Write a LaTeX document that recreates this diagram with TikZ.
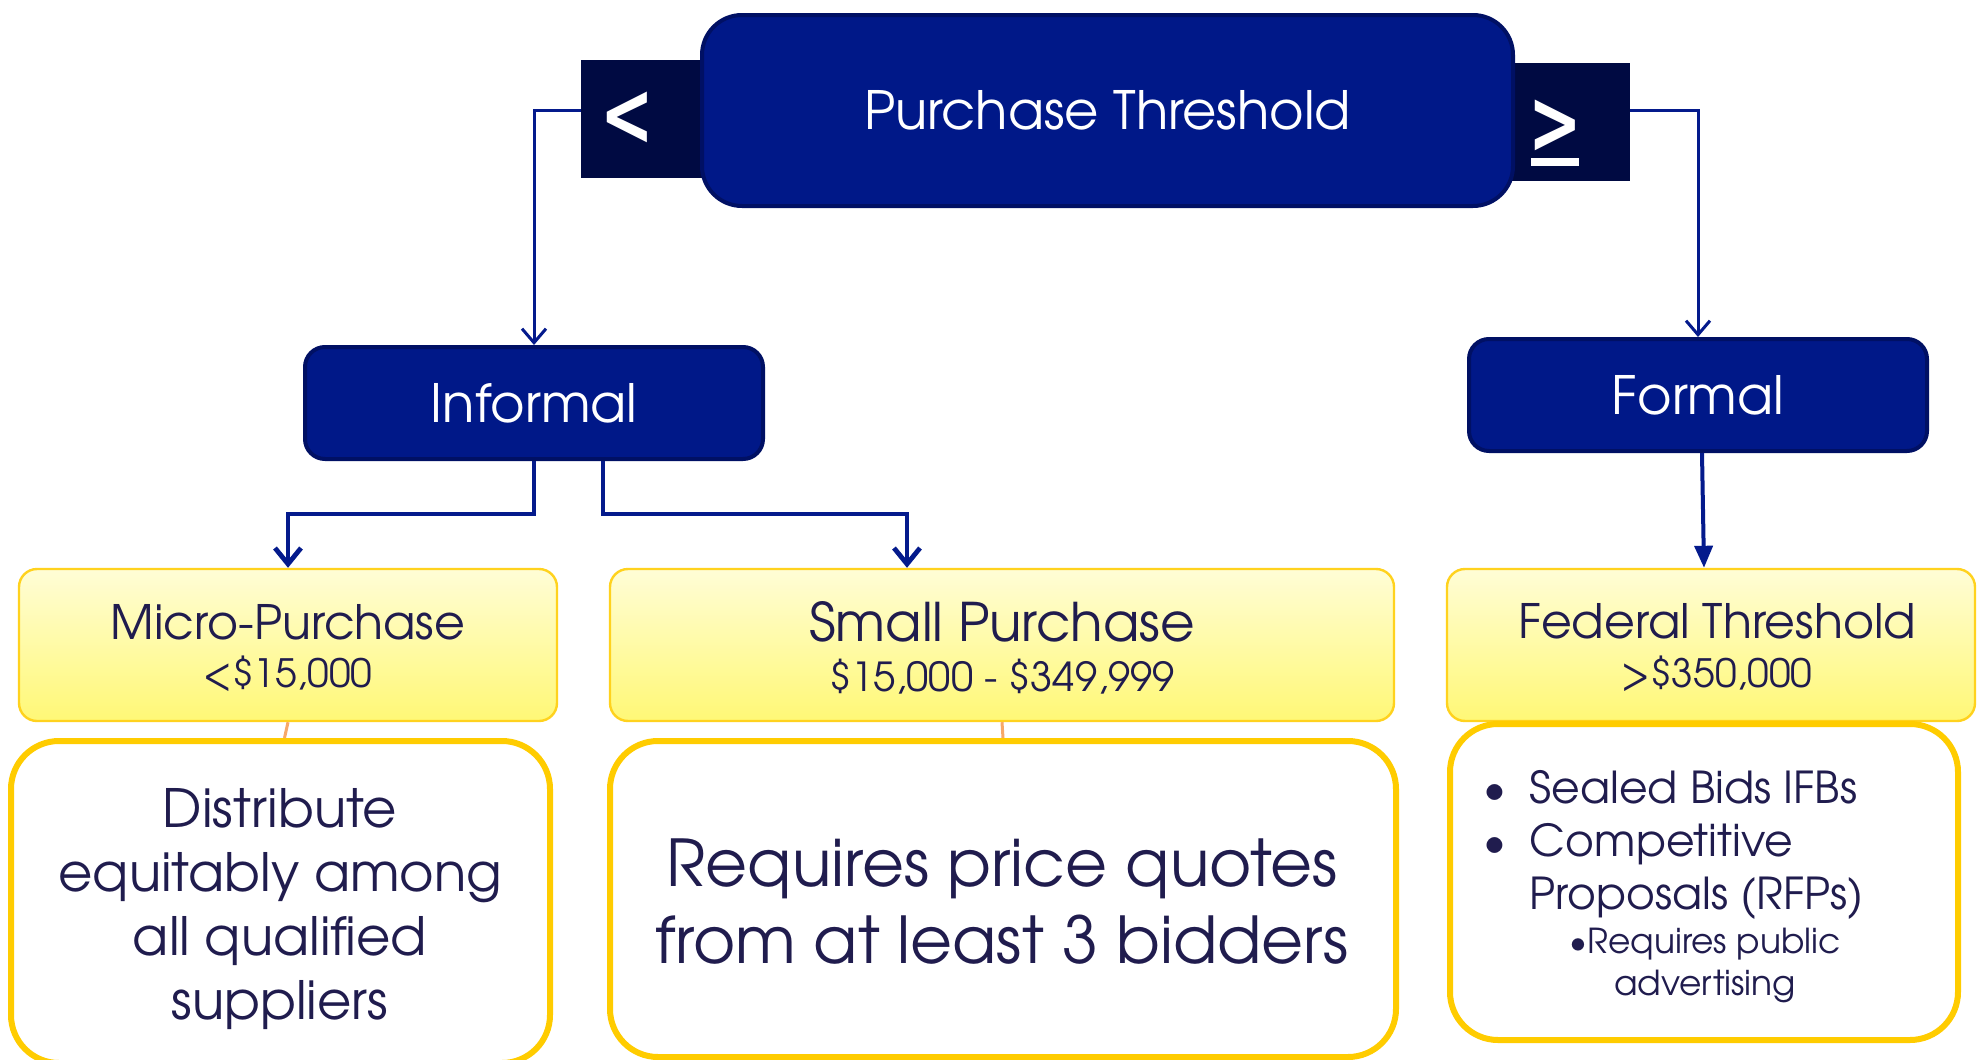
\documentclass[tikz,border=0pt]{standalone}
\usepackage{fontspec}
\setmainfont{TeX Gyre Adventor}
\newfontfamily\symfont{DejaVu Sans}
\usetikzlibrary{arrows.meta,calc}

\definecolor{boxblue}{RGB}{0,24,136}
\definecolor{boxedge}{RGB}{0,16,100}
\definecolor{tabnavy}{RGB}{0,10,66}
\definecolor{linkblue}{RGB}{4,26,140}
\definecolor{inktext}{RGB}{32,28,78}
\definecolor{ytop}{RGB}{255,253,214}
\definecolor{ybot}{RGB}{255,248,118}
\definecolor{yedge}{RGB}{255,210,30}
\definecolor{gold}{RGB}{255,204,0}
\definecolor{tiecol}{RGB}{247,168,104}

\begin{document}
\begin{tikzpicture}[x=0.5pt,y=-0.5pt,
  tab/.style={fill=tabnavy, draw=none, inner sep=0pt},
  glyph/.style={text=white, font=\symfont\bfseries\fontsize{40}{40}\selectfont, inner sep=0pt},
  mainbox/.style={fill=boxblue, draw=boxedge, line width=2pt, rounded corners=20pt,
    text=white, font=\fontsize{26.4}{30}\selectfont, inner sep=0pt},
  catbox/.style={fill=boxblue, draw=boxedge, line width=2pt, rounded corners=10pt,
    minimum width=229pt, minimum height=56pt, text=white,
    font=\fontsize{26.4}{30}\selectfont, inner sep=0pt},
  pricebox/.style={top color=ytop, bottom color=ybot, draw=yedge, line width=1.2pt,
    rounded corners=9pt, minimum height=76pt, inner sep=0pt},
  pricehead/.style={anchor=base, inner sep=0pt, text=inktext, font=\fontsize{23.7}{28}\selectfont},
  priceval/.style={anchor=base, inner sep=0pt, text=inktext, font=\fontsize{19.5}{22}\selectfont},
  notebox/.style={fill=white, draw=gold, line width=3pt, rounded corners=24pt, inner sep=0pt},
  notetext/.style={inner sep=0pt, text=inktext, align=center},
  toplink/.style={draw=linkblue, line width=1.5pt, -{Straight Barb[length=7pt,width=12pt,line width=1.5pt]}},
  sublink/.style={draw=linkblue, line width=2.4pt, -{Straight Barb[length=8pt,width=13pt,line width=2.4pt]}},
  solidlink/.style={draw=linkblue, line width=2pt, -{Triangle[length=11pt,width=9pt]}},
  tie/.style={draw=tiecol, line width=1.5pt}
]
\useasboundingbox (0,0) rectangle (1977,1060);
\fill[white] (0,0) rectangle (1977,1060);

% side tabs behind the title bar
\node[tab, minimum width=67pt, minimum height=59pt] (ltab) at (648,119) {};
\node[tab, minimum width=65pt, minimum height=59pt] (rtab) at (1565,122) {};

% title bar
\node[mainbox, minimum width=405.5pt, minimum height=95.5pt] (ptop) at (1107.5,110.5) {Purchase Threshold};

% comparison signs on the tabs
\node[glyph] (lt) at (627,119) {\scalebox{0.8}[1.12]{<}};
\node[glyph] (ge) at (1555,133)
  {\makebox[0pt][l]{\hspace{1.4pt}\rule[-6pt]{24pt}{4pt}}\scalebox{0.8}[1.12]{>}};

% category boxes
\node[catbox] (inf) at (534,403) {Informal};
\node[catbox] (form) at (1698,395) {Formal};

% price range boxes
\node[pricebox, minimum width=269pt] (micro) at (288,645) {};
\node[pricebox, minimum width=392pt] (small) at (1002,645) {};
\node[pricebox, minimum width=264pt] (fed) at (1711,645) {};
\node[pricehead] (microhead) at (288,639) {Micro-Purchase};
\node[priceval] (microval) at (288,687) {<\$15,000};
\node[pricehead, font=\fontsize{26.6}{30}\selectfont] (smallhead) at (1002,641) {Small Purchase};
\node[priceval, font=\fontsize{20}{22}\selectfont] (smallval) at (1002,691) {\$15,000 - \$349,999};
\node[pricehead] (fedhead) at (1717,638) {Federal Threshold};
\node[priceval] (fedval) at (1717,687) {>\$350,000};

% rule boxes
\node[notebox, minimum width=269.5pt, minimum height=161pt] (dist) at (280.5,902) {};
\node[notebox, minimum width=393pt, minimum height=158pt] (req) at (1003,899) {};
\node[notebox, minimum width=254pt, minimum height=158pt] (fnote) at (1704,882) {};
\node[notetext, font=\fontsize{26.4}{32}\selectfont] (disttext) at (280,909)
  {Distribute\\equitably among\\all qualified\\suppliers};
\node[notetext, font=\fontsize{32.3}{38.5}\selectfont] (reqtext) at (1002,902)
  {Requires price quotes\\from at least 3 bidders};

% federal methods
\node[anchor=west, inner sep=0pt, text=inktext, font=\fontsize{22}{26.5}\selectfont] (methods) at (1483.5,846)
  {\begin{tabular}{@{}l@{\hspace{11.5pt}}l@{}}
   • & Sealed Bids IFBs\\
   • & Competitive\\
     & Proposals (RFPs)
   \end{tabular}};
\node[notetext, font=\fontsize{17.2}{21}\selectfont] (advert) at (1705,965)
  {•Requires public\\advertising};

% connectors
\draw[toplink] (ltab.west |- ptop.center) -| (inf.north);
\draw[toplink] (rtab.east |- ptop.center) -| (form.north);
\draw[sublink] (inf.south) -- ++(0,53) -| (micro.north);
\draw[sublink] ([xshift=34.5pt]inf.south) -- ++(0,53) -| ([xshift=-47.5pt]small.north);
\draw[solidlink] ([xshift=2pt]form.south) -- ([xshift=-3.5pt]fed.north);
\draw[tie] (micro.south) -- ([xshift=2pt]dist.north);
\draw[tie] (small.south) -- (req.north);
\end{tikzpicture}
\end{document}
